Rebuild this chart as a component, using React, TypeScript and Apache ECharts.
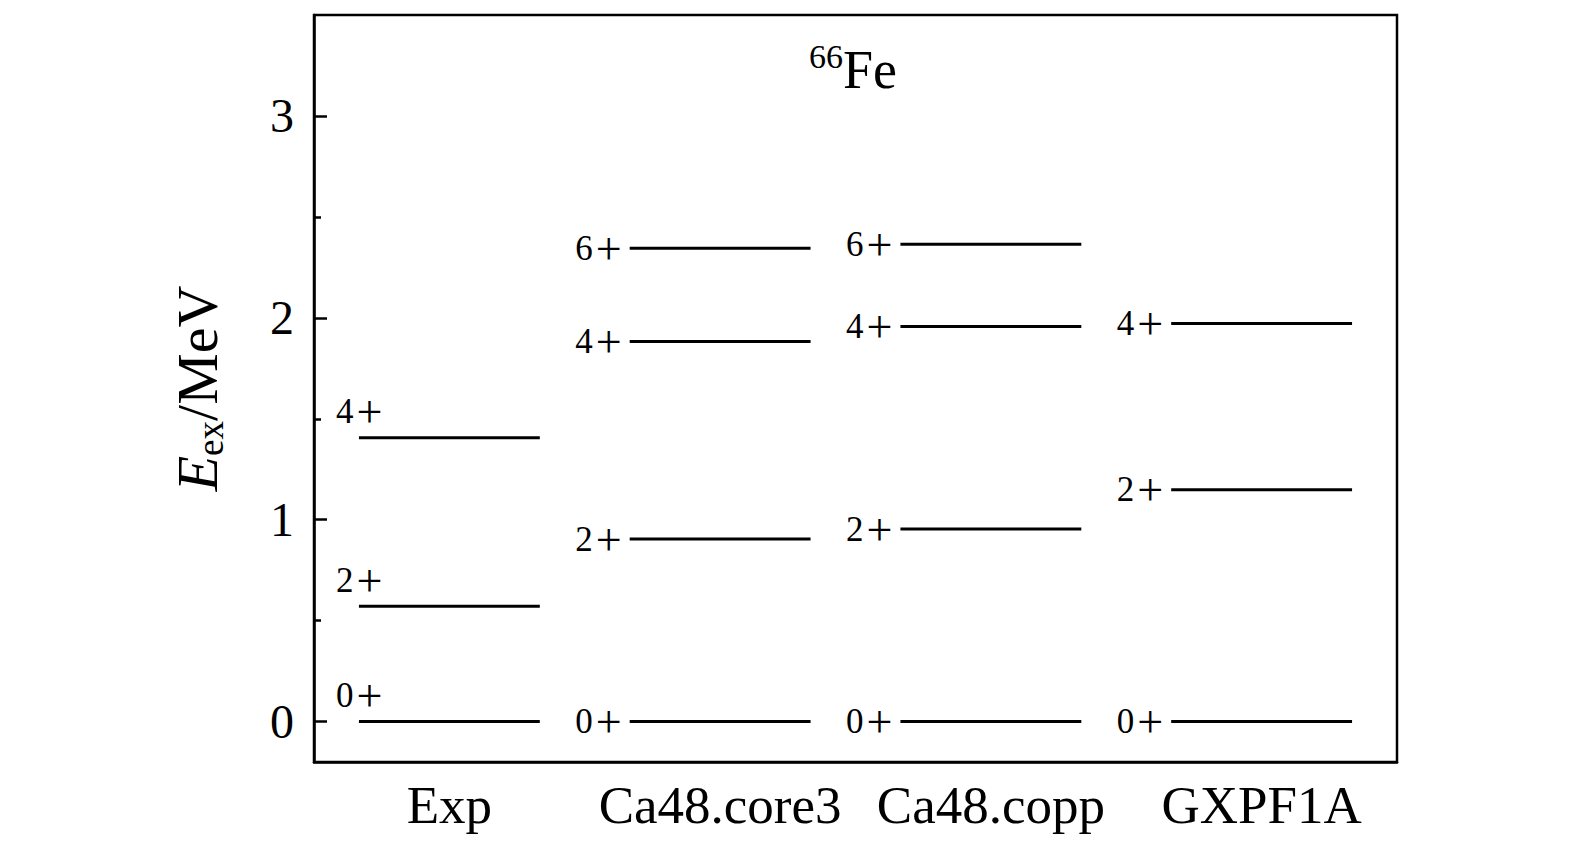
import React, { useEffect, useRef } from "react";
import * as echarts from "echarts";

const categories = ["Exp", "Ca48.core3", "Ca48.copp", "GXPF1A"];
const expLevels = [0, 0.571, 1.406];
const expSpins = ["0", "2", "4"];
const core3Levels = [0, 0.904, 1.883, 2.345];
const core3Spins = ["0", "2", "4", "6"];
const coppLevels = [0, 0.954, 1.957, 2.365];
const coppSpins = ["0", "2", "4", "6"];
const gxpfLevels = [0, 1.148, 1.972];
const gxpfSpins = ["0", "2", "4"];
const parity = "+";
const majorTicks = [0, 1, 2, 3];
const minorTicks = [0.5, 1.5, 2.5];

const FONT = "'Liberation Serif', 'DejaVu Serif', serif";

export default function App() {
  const ref = useRef<HTMLDivElement>(null);
  useEffect(() => {
    if (!ref.current) return;
    const chart = echarts.init(ref.current, null, { renderer: "svg" });
    const groups = [
      [expLevels, expSpins],
      [core3Levels, core3Spins],
      [coppLevels, coppSpins],
      [gxpfLevels, gxpfSpins],
    ] as [number[], string[]][];
    const data: number[][] = [];
    const labels: string[] = [];
    groups.forEach(([lv, sp], i) => {
      lv.forEach((v, j) => {
        data.push([i, v]);
        labels.push(sp[j]);
      });
    });
    const axisLineStyle = { color: "#000", width: 2.5 };
    const levelRich = {
      d: { fontSize: 35, fontFamily: FONT, fill: "#000" },
      p: { fontSize: 46, fontFamily: FONT, fill: "#000", padding: [0, 0, 0, 3] },
    };
    chart.setOption({
      animation: false,
      backgroundColor: "#fff",
      grid: {
        left: 314,
        right: 178,
        top: 15,
        bottom: 84,
        show: true,
        borderColor: "#000",
        borderWidth: 2.5,
        backgroundColor: "transparent",
      },
      graphic: [
        {
          type: "text",
          x: 853,
          y: 70,
          style: {
            text: "{sup|66}{m|Fe}",
            align: "center",
            verticalAlign: "middle",
            rich: {
              sup: { fontSize: 34, fontFamily: FONT, fill: "#000", lineHeight: 36, verticalAlign: "top" },
              m: { fontSize: 54, fontFamily: FONT, fill: "#000", lineHeight: 62 },
            },
          },
        },
      ],
      xAxis: {
        type: "category",
        data: categories,
        axisLine: { show: true, onZero: false, lineStyle: axisLineStyle },
        axisTick: { show: false },
        axisLabel: { interval: 0, fontSize: 53, fontFamily: FONT, color: "#000", margin: 16 },
        splitLine: { show: false },
      },
      yAxis: [
        {
          type: "value",
          min: -0.2,
          max: 3.5,
          axisLine: { show: true, lineStyle: axisLineStyle },
          axisTick: { show: true, inside: true, length: 13, lineStyle: { color: "#000", width: 2.5 }, customValues: majorTicks },
          axisLabel: { fontSize: 48, fontFamily: FONT, color: "#000", margin: 20, customValues: majorTicks },
          splitLine: { show: false },
          name: "{i|E}{sub|ex}{n|/MeV}",
          nameLocation: "middle",
          nameGap: 85,
          nameRotate: 90,
          nameTextStyle: {
            rich: {
              i: { fontSize: 58, fontFamily: FONT, fontStyle: "italic", color: "#000", lineHeight: 64 },
              sub: { fontSize: 37, fontFamily: FONT, color: "#000", lineHeight: 30, verticalAlign: "bottom" },
              n: { fontSize: 58, fontFamily: FONT, color: "#000", lineHeight: 64 },
            },
          },
        },
        {
          type: "value",
          min: -0.2,
          max: 3.5,
          position: "left",
          axisLine: { show: false },
          axisTick: { show: true, inside: true, length: 7, lineStyle: { color: "#000", width: 2.5 }, customValues: minorTicks },
          axisLabel: { show: false },
          splitLine: { show: false },
        },
      ],
      series: [
        {
          type: "custom",
          coordinateSystem: "cartesian2d",
          data,
          renderItem: (params: any, api: any) => {
            const cat = api.value(0);
            const pt = api.coord([cat, api.value(1)]);
            const bw = api.size([1, 0])[0];
            const half = bw * 0.334;
            const x1 = pt[0] - half;
            const x2 = pt[0] + half;
            const label = "{d|" + labels[params.dataIndex] + "}{p|" + parity + "}";
            const text =
              cat === 0
                ? {
                    type: "text",
                    x: x1 - 23,
                    y: pt[1] - 3,
                    style: { text: label, rich: levelRich, align: "left", verticalAlign: "bottom" },
                  }
                : {
                    type: "text",
                    x: x1 - 8,
                    y: pt[1],
                    style: { text: label, rich: levelRich, align: "right", verticalAlign: "middle" },
                  };
            return {
              type: "group",
              children: [
                { type: "line", shape: { x1, y1: pt[1], x2, y2: pt[1] }, style: { stroke: "#000", lineWidth: 3 } },
                text,
              ],
            };
          },
        },
      ],
    });
    return () => chart.dispose();
  }, []);
  return <div ref={ref} style={{ position: "fixed", left: 0, top: 0, width: 1575, height: 846 }} />;
}
